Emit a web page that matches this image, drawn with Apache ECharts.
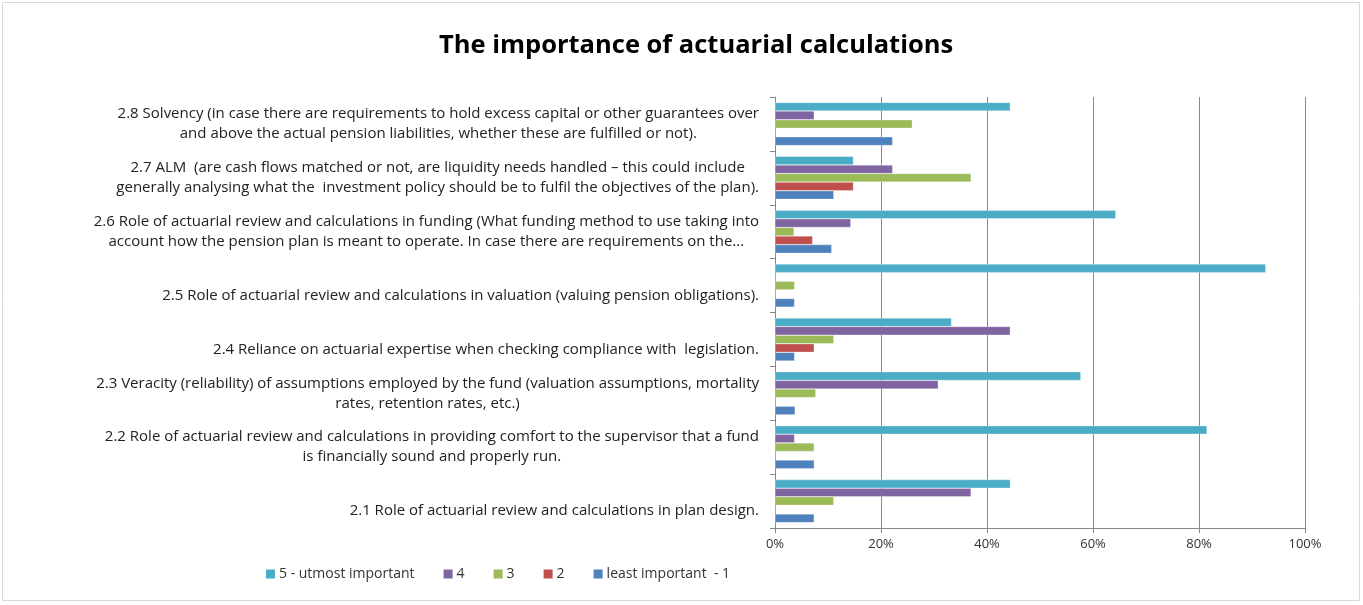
<!DOCTYPE html>
<html>
<head>
<meta charset="utf-8">
<script src="https://cdn.jsdelivr.net/npm/echarts@6/dist/echarts.min.js"></script>
<style>
  html, body { margin: 0; padding: 0; background: #fff; }
  #chart { width: 1363px; height: 605px; }
</style>
</head>
<body>
<div id="chart"></div>
<script>
// categories, bottom to top (as on the axis)
const categories = [
    '2.1 Role of actuarial review and calculations in plan design.',
    '2.2 Role of actuarial review and calculations in providing comfort to the supervisor that a fund\nis financially sound and properly run.',
    '2.3 Veracity (reliability) of assumptions employed by the fund (valuation assumptions, mortality\nrates, retention rates, etc.)',
    '2.4 Reliance on actuarial expertise when checking compliance with  legislation.',
    '2.5 Role of actuarial review and calculations in valuation (valuing pension obligations).',
    '2.6 Role of actuarial review and calculations in funding (What funding method to use taking into\naccount how the pension plan is meant to operate. In case there are requirements on the...',
    '2.7 ALM  (are cash flows matched or not, are liquidity needs handled \u2013 this could include\ngenerally analysing what the  investment policy should be to fulfil the objectives of the plan).',
    '2.8 Solvency (in case there are requirements to hold excess capital or other guarantees over\nand above the actual pension liabilities, whether these are fulfilled or not).'
];
// single-line labels sit low in their band in the original
const singleLine = [true, false, false, true, true, false, false, false];

const seriesNames = ['5 - utmost important', '4', '3', '2', 'least important  - 1'];
const colors = ['#4BACC6', '#8064A2', '#9BBB59', '#C0504D', '#4F81BD'];

// percentages, same order as categories
const imp5 = [44.4, 81.5, 57.7, 33.3, 92.6, 64.3, 14.8, 44.4];
const imp4 = [37.0, 3.7, 30.8, 44.4, 0, 14.3, 22.2, 7.4];
const imp3 = [11.1, 7.4, 7.7, 11.1, 3.7, 3.6, 37.0, 25.9];
const imp2 = [0, 0, 0, 7.4, 0, 7.1, 14.8, 0];
const imp1 = [7.4, 7.4, 3.8, 3.7, 3.7, 10.7, 11.1, 22.2];
const seriesData = [imp5, imp4, imp3, imp2, imp1];

const xTicks = [0, 20, 40, 60, 80, 100];

const chart = echarts.init(document.getElementById('chart'));

const series = seriesNames.map((name, i) => ({
    name: name,
    type: 'bar',
    data: seriesData[i],
    barGap: '0%',
    barCategoryGap: '20%',
    itemStyle: { color: colors[i], borderColor: 'rgba(255,255,255,0.6)', borderWidth: 0.5 }
}));

const option = {
    animation: false,
    textStyle: { fontFamily: 'Open Sans' },
    title: {
        text: 'The importance of actuarial calculations',
        left: 434,
        top: 28,
        textStyle: { fontFamily: 'Open Sans', fontWeight: 'bold', fontSize: 25.5, color: '#000' }
    },
    legend: {
        data: seriesNames,
        left: 261,
        top: 562,
        icon: 'rect',
        itemWidth: 9,
        itemHeight: 9,
        itemGap: 29,
        itemStyle: { borderWidth: 0 },
        textStyle: { fontFamily: 'Open Sans', fontSize: 14, color: '#333', padding: [0, 0, 0, -1] }
    },
    grid: { left: 775, right: 58, top: 97, bottom: 77, containLabel: false },
    xAxis: {
        type: 'value',
        min: xTicks[0],
        max: xTicks[xTicks.length - 1],
        interval: 20,
        axisLine: { show: true, lineStyle: { color: '#888', width: 1 } },
        axisTick: { show: true, length: 5, lineStyle: { color: '#888' } },
        axisLabel: { formatter: '{value}%', fontSize: 13, color: '#333', margin: 10, fontFamily: 'Open Sans' },
        splitLine: { show: true, lineStyle: { color: '#888', width: 1 } }
    },
    yAxis: {
        type: 'category',
        data: categories,
        axisLine: { show: true, lineStyle: { color: '#888' } },
        axisTick: { show: true, length: 5, lineStyle: { color: '#888' } },
        axisLabel: {
            margin: 16,
            align: 'right',
            fontSize: 15,
            color: '#222',
            formatter: function (value, idx) {
                return '{c|' + (singleLine[idx] ? ' \n' : '') + value + '}';
            },
            rich: { c: { align: 'center', fontSize: 15, lineHeight: 20, fontFamily: 'Open Sans', color: '#222' } }
        }
    },
    series: series,
    graphic: [{
        type: 'rect',
        shape: { x: 2.5, y: 2.5, width: 1357, height: 598 },
        style: { fill: 'none', stroke: '#d9d9d9', lineWidth: 1 },
        silent: true
    }]
};

chart.setOption(option);
</script>
</body>
</html>
